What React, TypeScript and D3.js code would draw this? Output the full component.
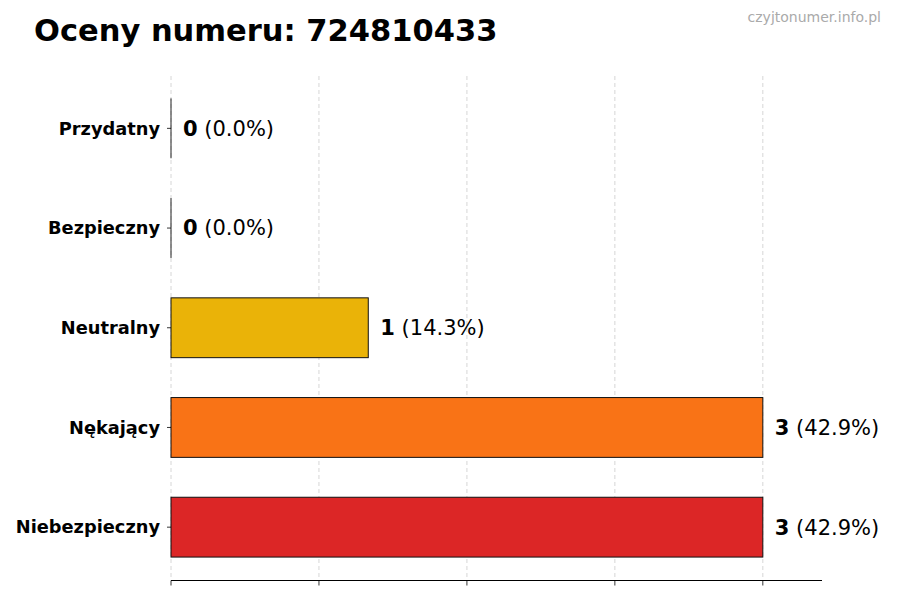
import * as d3 from 'd3';

const categories = ['Niebezpieczny', 'Nękający', 'Neutralny', 'Bezpieczny', 'Przydatny'];
const counts = [3, 3, 1, 0, 0];
const percents = ['42.9%', '42.9%', '14.3%', '0.0%', '0.0%'];
const colors = ['#DC2626', '#F97316', '#EAB308', '#22C55E', '#16A34A'];
const xTicks = [0, 0.75, 1.5, 2.25, 3];

const W = 900;
const H = 600;
const margin = { left: 171, right: 78, top: 76, bottom: 20 };
const font = '"DejaVu Sans", sans-serif';

export default function App() {
    const x = d3.scaleLinear().domain([0, 3.3]).range([margin.left, W - margin.right]);
    const y = d3.scaleLinear().domain([-0.53, 4.525]).range([H - margin.bottom, margin.top]);
    const barH = y(0) - y(0.6);
    const axisY = Math.round(H - margin.bottom) + 0.5;

    return (
        <svg width={W} height={H} style={{ display: 'block', margin: '-8px', fontFamily: font }}>
            <rect width={W} height={H} fill="#fff" />
            <text x={34} y={41} fontSize={30.5} fontWeight="bold" fill="#000">Oceny numeru: 724810433</text>
            <text x={881} y={22} fontSize={14} fill="#aaa" textAnchor="end">czyjtonumer.info.pl</text>

            {/* grid */}
            {xTicks.map(t => (
                <line key={'g' + t} x1={x(t)} x2={x(t)} y1={margin.top} y2={H - margin.bottom}
                    stroke="#ccc" strokeWidth={0.8} strokeDasharray="4,3" />
            ))}

            {/* bars */}
            {categories.map((c, i) => counts[i] > 0 ? (
                <rect key={c} x={x(0)} y={y(i) - barH / 2} width={x(counts[i]) - x(0)} height={barH}
                    fill={colors[i]} stroke="#111" strokeWidth={1} />
            ) : (
                <line key={c} x1={x(0)} x2={x(0)} y1={y(i) - barH / 2} y2={y(i) + barH / 2}
                    stroke="#222" strokeWidth={1} />
            ))}

            {/* value labels */}
            {categories.map((c, i) => (
                <text key={'v' + c} x={x(counts[i]) + 12} y={y(i)} dy="0.35em" fontSize={21} fill="#000">
                    <tspan fontWeight="bold">{counts[i]}</tspan>
                    <tspan> ({percents[i]})</tspan>
                </text>
            ))}

            {/* y ticks and labels */}
            {categories.map((c, i) => (
                <g key={'y' + c}>
                    <line x1={x(0) - 4} x2={x(0)} y1={y(i)} y2={y(i)} stroke="#000" strokeWidth={0.8} />
                    <text x={x(0) - 11} y={y(i)} dy="0.35em" textAnchor="end" fontSize={17.8} fontWeight="bold" fill="#000">{c}</text>
                </g>
            ))}

            {/* bottom axis */}
            <line x1={x(0)} x2={x(3.3)} y1={axisY} y2={axisY} stroke="#000" strokeWidth={1} />
            {xTicks.map(t => (
                <line key={'t' + t} x1={x(t)} x2={x(t)} y1={axisY} y2={axisY + 5} stroke="#000" strokeWidth={0.8} />
            ))}
        </svg>
    );
}
